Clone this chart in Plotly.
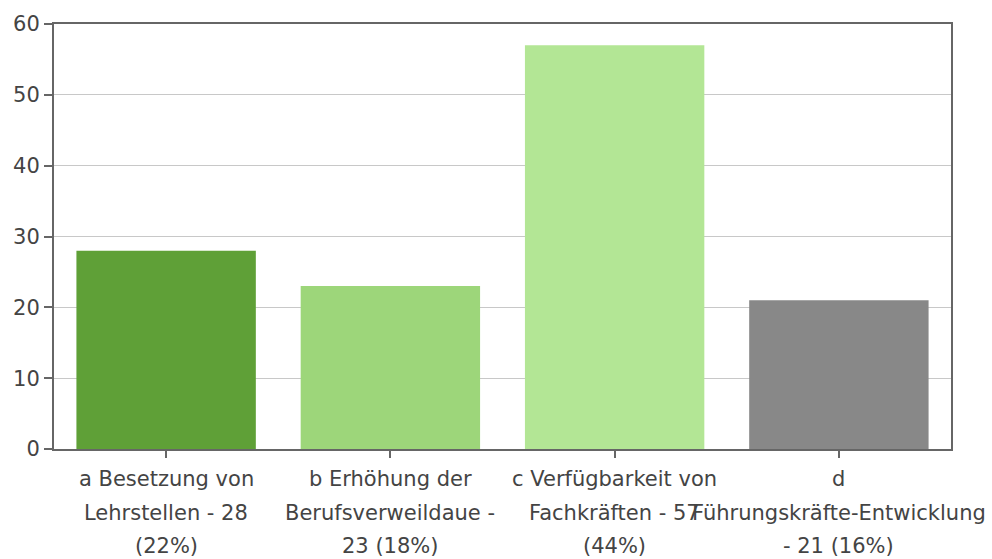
import plotly.graph_objects as go

# Survey answers: category keys, counts and wrapped label lines
categories = ["a", "b", "c", "d"]
values = [28, 23, 57, 21]
label_lines = [
    ["a Besetzung von", "Lehrstellen - 28", "(22%)"],
    ["b Erhöhung der", "Berufsverweildaue -", "23 (18%)"],
    ["c Verfügbarkeit von", "Fachkräften - 57", "(44%)"],
    ["d", "Führungskräfte-Entwicklung", "- 21 (16%)"],
]
bar_colors = ["#5FA037", "#9DD67A", "#B3E695", "#888888"]
y_ticks = [0, 10, 20, 30, 40, 50, 60]

FONT = "DejaVu Sans"
TEXT_COLOR = "#444444"
AXIS_COLOR = "#666666"

fig = go.Figure(
    go.Bar(
        x=categories,
        y=values,
        marker=dict(color=bar_colors, line=dict(width=0)),
        hoverinfo="x+y",
    )
)

# Category labels, one annotation per wrapped line under each bar
line_offsets = [-30, -64, -97]
for cat, lines in zip(categories, label_lines):
    for text, dy in zip(lines, line_offsets):
        fig.add_annotation(
            x=cat, xref="x",
            y=0, yref="paper",
            yshift=dy,
            text=text,
            showarrow=False,
            xanchor="center", yanchor="middle",
            font=dict(family=FONT, size=21, color=TEXT_COLOR),
        )

fig.update_layout(
    width=992,
    height=559,
    margin=dict(l=54, r=41, t=22, b=110),
    paper_bgcolor="white",
    plot_bgcolor="white",
    bargap=0.2,
    showlegend=False,
    font=dict(family=FONT, size=21, color=TEXT_COLOR),
)

fig.update_xaxes(
    range=[-0.5, len(categories) - 0.5],
    showticklabels=False,
    ticks="outside",
    ticklen=7,
    tickwidth=2,
    tickcolor=AXIS_COLOR,
    showline=True,
    linecolor=AXIS_COLOR,
    linewidth=2,
    mirror=True,
    showgrid=False,
)

fig.update_yaxes(
    range=[0, 60],
    tickvals=y_ticks,
    ticks="outside",
    ticklen=8,
    tickwidth=2,
    tickcolor=AXIS_COLOR,
    tickfont=dict(family=FONT, size=21, color=TEXT_COLOR),
    showline=True,
    linecolor=AXIS_COLOR,
    linewidth=2,
    mirror=True,
    showgrid=True,
    gridcolor="#C8C8C8",
    gridwidth=1,
    zeroline=False,
)

fig.write_html("out.html")
